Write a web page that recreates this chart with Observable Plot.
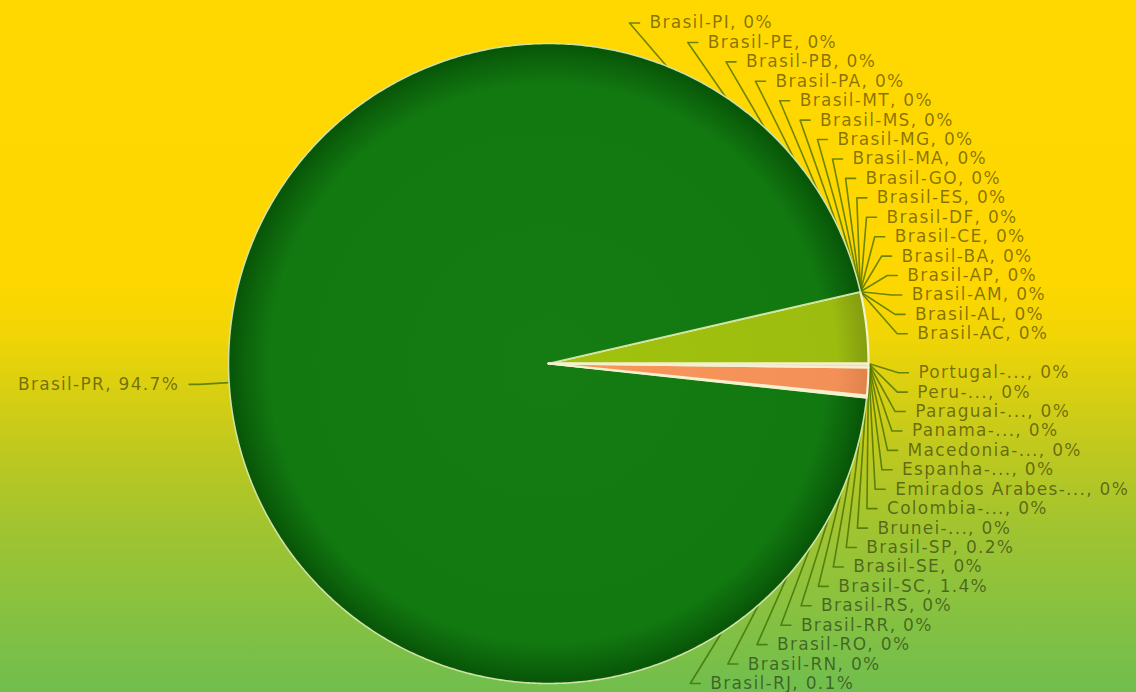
<!DOCTYPE html>
<html><head><meta charset="utf-8">
<script src="https://cdn.jsdelivr.net/npm/d3@7"></script>
<script src="https://cdn.jsdelivr.net/npm/@observablehq/plot@0.6"></script>
<style>
html,body{margin:0;padding:0;width:1136px;height:692px;overflow:hidden;}
#chart svg text{letter-spacing:1.3px;}
</style></head><body><div id="chart"></div>
<script>
// ---- data (slice order: counter-clockwise from 3 o'clock) ----
const names = [
  null,
  "Brasil-AC","Brasil-AL","Brasil-AM","Brasil-AP","Brasil-BA","Brasil-CE","Brasil-DF",
  "Brasil-ES","Brasil-GO","Brasil-MA","Brasil-MG","Brasil-MS","Brasil-MT","Brasil-PA",
  "Brasil-PB","Brasil-PE","Brasil-PI","Brasil-PR","Brasil-RJ","Brasil-RN","Brasil-RO",
  "Brasil-RR","Brasil-RS","Brasil-SC","Brasil-SE","Brasil-SP",
  "Brunei-...","Colombia-...","Emirados Arabes-...","Espanha-...","Macedonia-...",
  "Panama-...","Paraguai-...","Peru-...","Portugal-..."
];
const values = [
  3.6,
  0,0,0,0,0,0,0,
  0,0,0,0,0,0,0,
  0,0,0,94.7,0.1,0,0,
  0,0,1.4,0,0.2,
  0,0,0,0,0,
  0,0,0,0
];

// ---- styles ----
const sliceFill = {
  "Brasil-PR": "url(#gPR)",
  "Brasil-SC": "url(#gSC)",
  "Brasil-SP": "#f3dcc4",
  "Brasil-RJ": "#eef2c6"
};
const otherFill = "url(#gLG)";

// ---- layout ----
const W = 1136, H = 692;
const cx = 548, cy = 363, R = 320;
const labelR = 350, tick = 10, gap = 10;
const slotTop = 22.5, slotBottom = 683;

const rows = names.map((name, i) => ({name, value: values[i], idx: i}));
const total = d3.sum(values);
const pie = d3.pie().sort(null).value(d => d.value)
  .startAngle(Math.PI / 2).endAngle(Math.PI / 2 - 2 * Math.PI);
const arcs = pie(rows);

const polys = [];
arcs.filter(a => a.value > 0).forEach(a => {
  const n = Math.max(2, Math.ceil(Math.abs(a.endAngle - a.startAngle) / (Math.PI / 360)));
  const key = a.data.idx;
  polys.push({key, x: 0, y: 0});
  for (let k = 0; k <= n; k++) {
    const t = a.startAngle + (a.endAngle - a.startAngle) * k / n;
    polys.push({key, x: R * Math.sin(t), y: -R * Math.cos(t)});
  }
  polys.push({key, x: 0, y: 0});
});

const tau = 2 * Math.PI;
const norm = m => ((m % tau) + tau) % tau;
const items = arcs.map(a => {
  const m = (a.startAngle + a.endAngle) / 2;
  return {a, i: a.data.idx, m, mx: Math.sin(m), my: -Math.cos(m)};
});
const right = items.filter(d => d.mx > 0)
  .sort((p, q) => (norm(p.m) - norm(q.m)) || (q.i - p.i));
right.forEach((d, k) => {
  d.side = 1;
  d.ly = (slotTop - cy) + k * (slotBottom - slotTop) / (right.length - 1);
  d.ex = Math.sqrt(labelR * labelR - d.ly * d.ly);
});
items.filter(d => d.mx <= 0).forEach(d => {
  d.side = -1;
  d.ly = labelR * d.my;
  d.ex = labelR * d.mx;
});
const fmt = d3.format(".1~f");
const labeled = items.filter(d => d.a.data.name);
const leaders = labeled.flatMap(d => [
  {key: d.i, x: R * d.mx, y: R * d.my},
  {key: d.i, x: d.ex, y: d.ly},
  {key: d.i, x: d.ex + d.side * tick, y: d.ly}
]);
const texts = labeled.map(d => ({
  x: d.ex + d.side * (tick + gap), y: d.ly, side: d.side,
  text: `${d.a.data.name}, ${fmt(d.a.data.value / total * 100)}%`
}));

const sliceMarks = arcs.filter(a => a.value > 0).map(a => {
  const nm = a.data.name;
  const fill = sliceFill[nm] || otherFill;
  const isPR = nm === "Brasil-PR";
  return Plot.line(polys.filter(p => p.key === a.data.idx), {
    x: "x", y: "y", fill,
    stroke: isPR ? "#cfe2a2" : "#f4f1cf",
    strokeWidth: isPR ? 1.6 : 2.2,
    strokeLinejoin: "round"
  });
});

const chart = Plot.plot({
  width: W, height: H, margin: 0,
  x: {domain: [-cx, W - cx], range: [0, W], axis: null},
  y: {domain: [-cy, H - cy], range: [0, H], axis: null},
  style: {
    background: "linear-gradient(to bottom, #FFD800 0%, #FFD700 40%, #F2D505 48%, #D4CE14 58%, #BCC820 66%, #A4C42E 75%, #8EC23C 85%, #70BE4E 100%)",
    overflow: "visible"
  },
  marks: [
    Plot.line(leaders, {x: "x", y: "y", z: "key", stroke: "#3d6a00", strokeOpacity: 0.75, strokeWidth: 1.6}),
    ...sliceMarks,
    Plot.text(texts.filter(t => t.side > 0), {x: "x", y: "y", text: "text", textAnchor: "start",
      fontSize: 17, fontFamily: "DejaVu Sans", fill: "#000", fillOpacity: 0.48}),
    Plot.text(texts.filter(t => t.side < 0), {x: "x", y: "y", text: "text", textAnchor: "end",
      fontSize: 17, fontFamily: "DejaVu Sans", fill: "#000", fillOpacity: 0.48})
  ]
});
document.getElementById("chart").appendChild(chart);

// gradients for slice shading
const px = chart.scale("x").apply(0), py = chart.scale("y").apply(0);
const defs = d3.select(chart).insert("defs", ":first-child");
function radial(id, stops) {
  const g = defs.append("radialGradient").attr("id", id)
    .attr("gradientUnits", "userSpaceOnUse").attr("cx", px).attr("cy", py).attr("r", R);
  stops.forEach(([o, c]) => g.append("stop").attr("offset", o).attr("stop-color", c));
}
radial("gPR", [[0, "#147c13"], [0.87, "#127911"], [0.95, "#0c630b"], [0.99, "#085708"], [1, "#0a5a0a"]]);
radial("gLG", [[0, "#a2c20e"], [0.9, "#9cbd0f"], [0.97, "#8aa50f"], [1, "#849e10"]]);
radial("gSC", [[0, "#f8975c"], [0.9, "#f39058"], [1, "#e0824a"]]);
</script></body></html>
